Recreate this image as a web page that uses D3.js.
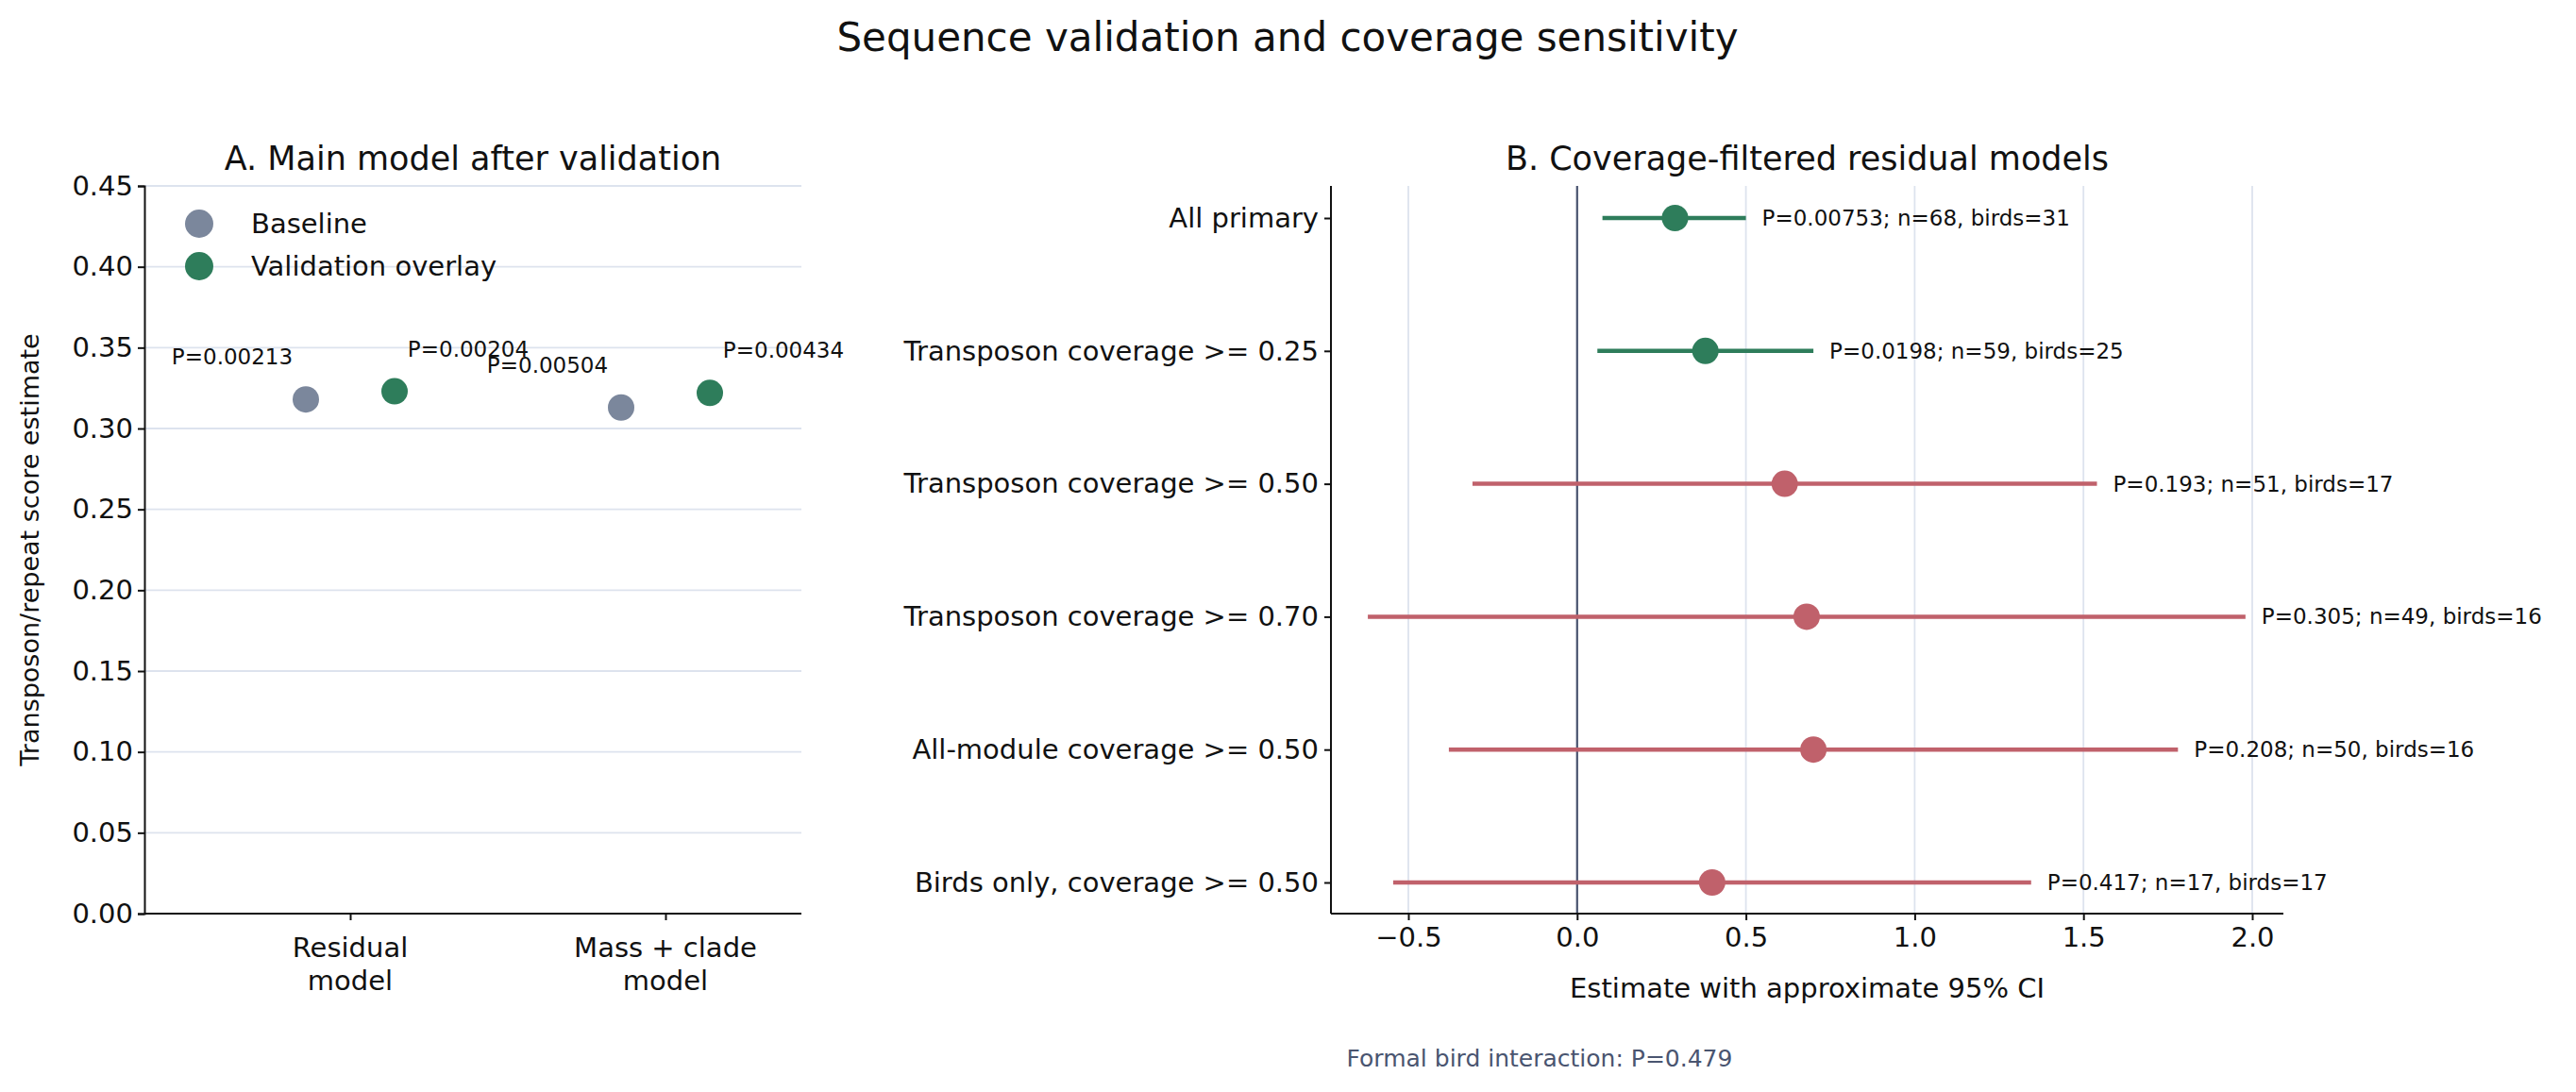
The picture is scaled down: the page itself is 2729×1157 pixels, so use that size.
<!DOCTYPE html>
<html><head><meta charset="utf-8">
<script src="https://cdn.jsdelivr.net/npm/d3@7"></script>
<style>body{margin:0;background:#fff}text{font-family:"DejaVu Sans",sans-serif;fill:#111}</style>
</head><body><svg id="c" width="2729" height="1157"></svg>
<script>
// panel A data
const modelCats = ["Residual\nmodel", "Mass + clade\nmodel"];
const baselineVals = [0.318, 0.313];
const validationVals = [0.323, 0.322];
const baselineP = ["P=0.00213", "P=0.00504"];
const validationP = ["P=0.00204", "P=0.00434"];
const yTicksA = [0, 0.05, 0.1, 0.15, 0.2, 0.25, 0.3, 0.35, 0.4, 0.45];

// panel B data
const rowLabels = ["All primary", "Transposon coverage >= 0.25", "Transposon coverage >= 0.50",
  "Transposon coverage >= 0.70", "All-module coverage >= 0.50", "Birds only, coverage >= 0.50"];
const estimates = [0.29, 0.38, 0.615, 0.68, 0.70, 0.40];
const ciLow = [0.075, 0.06, -0.31, -0.62, -0.38, -0.545];
const ciHigh = [0.50, 0.70, 1.54, 1.98, 1.78, 1.345];
const significant = [true, true, false, false, false, false];
const rowNotes = ["P=0.00753; n=68, birds=31", "P=0.0198; n=59, birds=25", "P=0.193; n=51, birds=17",
  "P=0.305; n=49, birds=16", "P=0.208; n=50, birds=16", "P=0.417; n=17, birds=17"];
const xTicksB = [-0.5, 0, 0.5, 1.0, 1.5, 2.0];

const GREY = "#7b879c", GREEN = "#2e7d5b", RED = "#c0616b", GRID = "#dde3ee";
const FS = "29px", FA = "23px";
const svg = d3.select("#c");

svg.append("text").attr("x", 1364).attr("y", 54).attr("text-anchor", "middle")
  .style("font-size", "42px").text("Sequence validation and coverage sensitivity");

// ---- Panel A
const A = {l: 153, r: 849, t: 197, b: 968};
const yA = d3.scaleLinear().domain([0, 0.45]).range([A.b, A.t]);
const xA = d3.scalePoint().domain(modelCats).range([371, 705]);
const gA = svg.append("g");
gA.selectAll(".grid").data(yTicksA.slice(1)).join("line")
  .attr("x1", A.l).attr("x2", A.r).attr("y1", d => yA(d)).attr("y2", d => yA(d))
  .attr("stroke", GRID).attr("stroke-width", 1.8);
const axYA = gA.append("g").attr("transform", `translate(${A.l},0)`)
  .call(d3.axisLeft(yA).tickValues(yTicksA).tickFormat(d3.format(".2f")).tickSizeOuter(0).tickSize(7));
const axXA = gA.append("g").attr("transform", `translate(0,${A.b})`)
  .call(d3.axisBottom(xA).tickSize(7).tickFormat(""));
axXA.select(".domain").attr("d", `M${A.l},0H${A.r}`);
[axYA, axXA].forEach(a => { a.selectAll("path,line").attr("stroke", "#111").attr("stroke-width", 2);
  a.selectAll("text").style("font-size", FS).attr("fill", "#111"); });
axYA.selectAll("text").attr("x", -12);
modelCats.forEach(c => c.split("\n").forEach((ln, i) =>
  gA.append("text").attr("x", xA(c)).attr("y", A.b + 46 + i * 35).attr("text-anchor", "middle")
    .style("font-size", FS).text(ln)));
gA.append("text").attr("transform", `translate(41,${(A.t + A.b) / 2}) rotate(-90)`)
  .attr("text-anchor", "middle").style("font-size", "27px").text("Transposon/repeat score estimate");
gA.append("text").attr("x", (A.l + A.r) / 2).attr("y", 180).attr("text-anchor", "middle")
  .style("font-size", "35px").text("A. Main model after validation");
const off = 47;
modelCats.forEach((c, i) => {
  gA.append("circle").attr("cx", xA(c) - off).attr("cy", yA(baselineVals[i])).attr("r", 14).attr("fill", GREY);
  gA.append("circle").attr("cx", xA(c) + off).attr("cy", yA(validationVals[i])).attr("r", 14).attr("fill", GREEN);
  gA.append("text").attr("x", xA(c) - off - 78).attr("y", yA(baselineVals[i]) - 37).attr("text-anchor", "middle")
    .style("font-size", FA).text(baselineP[i]);
  gA.append("text").attr("x", xA(c) + off + 78).attr("y", yA(validationVals[i]) - 37).attr("text-anchor", "middle")
    .style("font-size", FA).text(validationP[i]);
});
[["Baseline", GREY], ["Validation overlay", GREEN]].forEach(([t, col], i) => {
  gA.append("circle").attr("cx", 211).attr("cy", 237 + i * 45).attr("r", 15).attr("fill", col);
  gA.append("text").attr("x", 266).attr("y", 247 + i * 45).style("font-size", FS).text(t);
});

// ---- Panel B
const B = {l: 1410, r: 2419, t: 197, b: 968};
const xB = d3.scaleLinear().domain([-0.5, 2.0]).range([1492, 2386]);
const yB = d3.scalePoint().domain(rowLabels).range([231, 935]);
const gB = svg.append("g");
gB.selectAll(".grid").data(xTicksB).join("line")
  .attr("x1", d => xB(d)).attr("x2", d => xB(d)).attr("y1", B.t).attr("y2", B.b)
  .attr("stroke", GRID).attr("stroke-width", 1.8);
gB.append("line").attr("x1", xB(0)).attr("x2", xB(0)).attr("y1", B.t).attr("y2", B.b)
  .attr("stroke", "#4a5570").attr("stroke-width", 2.2);
const axYB = gB.append("g").attr("transform", `translate(${B.l},0)`)
  .call(d3.axisLeft(yB).tickSize(7));
axYB.select(".domain").attr("d", `M0,${B.t}V${B.b}`);
const axXB = gB.append("g").attr("transform", `translate(0,${B.b})`)
  .call(d3.axisBottom(xB).tickValues(xTicksB).tickFormat(d => d3.format(".1f")(d).replace("-", "\u2212")).tickSize(7));
axXB.select(".domain").attr("d", `M${B.l},0H${B.r}`);
[axYB, axXB].forEach(a => { a.selectAll("path,line").attr("stroke", "#111").attr("stroke-width", 2);
  a.selectAll("text").style("font-size", FS).attr("fill", "#111"); });
axYB.selectAll("text").attr("x", -13);
axXB.selectAll("text").attr("y", 14);
gB.append("text").attr("x", (B.l + B.r) / 2).attr("y", 1057).attr("text-anchor", "middle")
  .style("font-size", FS).text("Estimate with approximate 95% CI");
gB.append("text").attr("x", (B.l + B.r) / 2).attr("y", 180).attr("text-anchor", "middle")
  .style("font-size", "35px").text("B. Coverage-filtered residual models");
rowLabels.forEach((r, i) => {
  const col = significant[i] ? GREEN : RED;
  gB.append("line").attr("x1", xB(ciLow[i])).attr("x2", xB(ciHigh[i])).attr("y1", yB(r)).attr("y2", yB(r))
    .attr("stroke", col).attr("stroke-width", 4.5);
  gB.append("circle").attr("cx", xB(estimates[i])).attr("cy", yB(r)).attr("r", 14).attr("fill", col);
  gB.append("text").attr("x", xB(ciHigh[i]) + 17).attr("y", yB(r) + 8).style("font-size", FA).text(rowNotes[i]);
});

svg.append("text").attr("x", 1631).attr("y", 1130).attr("text-anchor", "middle")
  .style("font-size", "25px").style("fill", "#4a5570").text("Formal bird interaction: P=0.479");
</script></body></html>
